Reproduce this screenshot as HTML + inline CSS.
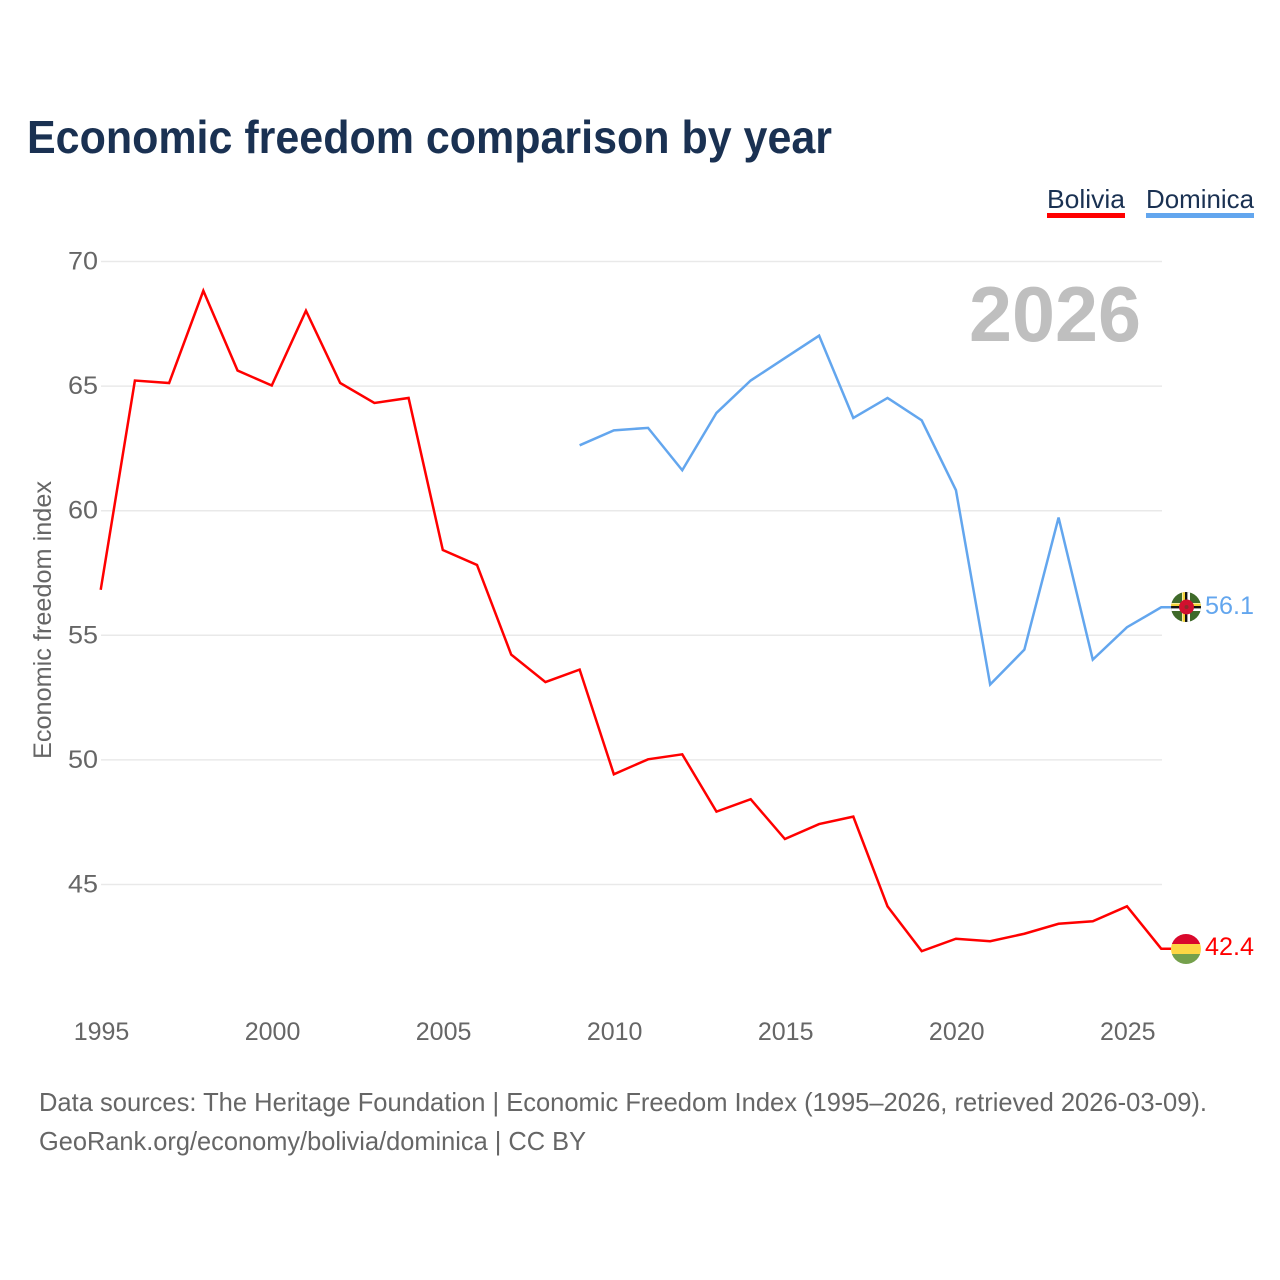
<!DOCTYPE html>
<html lang="en">
<head>
<meta charset="utf-8">
<title>Economic freedom comparison by year</title>
<style>
html,body{margin:0;padding:0;background:#fff;}
svg{display:block;font-family:"Liberation Sans",sans-serif;}
</style>
</head>
<body>
<svg id="chart" xmlns="http://www.w3.org/2000/svg" width="1280" height="1280" viewBox="0 0 1280 1280">
  <rect width="1280" height="1280" fill="#fff"/>
  <text x="27" y="153" font-size="46" font-weight="700" fill="#1a3152" textLength="805" lengthAdjust="spacingAndGlyphs">Economic freedom comparison by year</text>

  <g>
    <g>
      <text x="1047" y="208" font-size="26" fill="#1a3152" textLength="78" lengthAdjust="spacingAndGlyphs">Bolivia</text>
      <rect x="1047" y="213" width="78" height="5" fill="#ff0000"/>
    </g>
    <g>
      <text x="1146" y="208" font-size="26" fill="#1a3152" textLength="108" lengthAdjust="spacingAndGlyphs">Dominica</text>
      <rect x="1146" y="213" width="108" height="5" fill="#63a6ee"/>
    </g>
  </g>

  <g id="grid"></g>
  <g id="yticks"></g>
  <g id="xticks"></g>

  <text x="969" y="341" font-size="78" font-weight="700" fill="#bfbfbf" textLength="172" lengthAdjust="spacingAndGlyphs">2026</text>

  <text transform="translate(51,759) rotate(-90)" font-size="25" fill="#666" textLength="278" lengthAdjust="spacingAndGlyphs">Economic freedom index</text>

  <path id="line-bolivia" fill="none" stroke="#ff0000" stroke-width="2.5" stroke-linejoin="miter" transform="translate(-0.8,-0.6)"/>
  <path id="line-dominica" fill="none" stroke="#63a6ee" stroke-width="2.5" stroke-linejoin="miter" transform="translate(-0.8,-0.6)"/>

  <defs>
    <clipPath id="clip-flag-d"><circle cx="1186" cy="607" r="15"/></clipPath>
    <clipPath id="clip-flag-b"><circle cx="1186" cy="949" r="15"/></clipPath>
  </defs>

  <g clip-path="url(#clip-flag-d)">
    <rect x="1171" y="592" width="30" height="30" fill="#3f6a2a"/>
    <rect x="1182" y="592" width="8" height="30" fill="#fff"/>
    <rect x="1171" y="603" width="30" height="8" fill="#fff"/>
    <rect x="1182.5" y="592" width="2.5" height="30" fill="#f4d43a"/>
    <rect x="1185" y="592" width="2.4" height="30" fill="#111"/>
    <rect x="1171" y="603.5" width="30" height="2.5" fill="#f4d43a"/>
    <rect x="1171" y="606" width="30" height="2.4" fill="#111"/>
    <circle cx="1186.5" cy="607" r="7.5" fill="#d0102e"/>
    <circle cx="1186.5" cy="607" r="2" fill="#8a2a2a"/>
  </g>
  <text x="1205" y="614" font-size="25" fill="#63a6ee" textLength="49" lengthAdjust="spacingAndGlyphs">56.1</text>

  <g clip-path="url(#clip-flag-b)">
    <rect x="1171" y="934" width="30" height="10" fill="#d9082c"/>
    <rect x="1171" y="944" width="30" height="10" fill="#fdd644"/>
    <rect x="1171" y="954" width="30" height="10" fill="#75a04c"/>
  </g>
  <text x="1205" y="955" font-size="25" fill="#ff0000" textLength="49" lengthAdjust="spacingAndGlyphs">42.4</text>

  <text x="39" y="1111" font-size="26" fill="#666" textLength="1168" lengthAdjust="spacingAndGlyphs">Data sources: The Heritage Foundation | Economic Freedom Index (1995–2026, retrieved 2026-03-09).</text>
  <text x="39" y="1150" font-size="26" fill="#666" textLength="547" lengthAdjust="spacingAndGlyphs">GeoRank.org/economy/bolivia/dominica | CC BY</text>
</svg>
<script>
const yTickValues = [45, 50, 55, 60, 65, 70];
const xTickYears = [1995, 2000, 2005, 2010, 2015, 2020, 2025];
const boliviaStartYear = 1995;
const boliviaValues = [56.8, 65.2, 65.1, 68.8, 65.6, 65.0, 68.0, 65.1, 64.3, 64.5, 58.4, 57.8, 54.2, 53.1, 53.6, 49.4, 50.0, 50.2, 47.9, 48.4, 46.8, 47.4, 47.7, 44.1, 42.3, 42.8, 42.7, 43.0, 43.4, 43.5, 44.1, 42.4];
const dominicaStartYear = 2009;
const dominicaValues = [62.6, 63.2, 63.3, 61.6, 63.9, 65.2, 66.1, 67.0, 63.7, 64.5, 63.6, 60.8, 53.0, 54.4, 59.7, 54.0, 55.3, 56.1];

function xScale(year) { return 101.5 + (year - 1995) * (1162 - 101.5) / 31; }
function yScale(v) { return 261.5 + (70 - v) * (884.5 - 261.5) / 25; }
const NS = 'http://www.w3.org/2000/svg';
const flagEdgeX = 1172;

function linePath(startYear, values) {
  const d = values.map(function (v, i) {
    return (i ? 'L' : 'M') + xScale(startYear + i).toFixed(2) + ' ' + yScale(v).toFixed(2);
  }).join(' ');
  return d + ' L' + flagEdgeX + ' ' + yScale(values[values.length - 1]).toFixed(2);
}
document.getElementById('line-bolivia').setAttribute('d', linePath(boliviaStartYear, boliviaValues));
document.getElementById('line-dominica').setAttribute('d', linePath(dominicaStartYear, dominicaValues));

const grid = document.getElementById('grid');
const yticks = document.getElementById('yticks');
yTickValues.forEach(function (v) {
  const l = document.createElementNS(NS, 'line');
  
  
  l.setAttribute('x1', 101);
  l.setAttribute('x2', 1162);
  l.setAttribute('y1', yScale(v));
  l.setAttribute('y2', yScale(v));
  l.setAttribute('stroke', '#e9e9e9');
  l.setAttribute('stroke-width', '1.5');
  grid.appendChild(l);
  const t = document.createElementNS(NS, 'text');
  
  
  t.setAttribute('x', 68);
  t.setAttribute('y', yScale(v) + 8);
  t.setAttribute('textLength', '30');
  t.setAttribute('lengthAdjust', 'spacingAndGlyphs');
  t.setAttribute('font-size', '25');
  t.setAttribute('fill', '#666');
  t.textContent = v;
  yticks.appendChild(t);
});

const xticks = document.getElementById('xticks');
xTickYears.forEach(function (y) {
  const t = document.createElementNS(NS, 'text');
  
  
  t.setAttribute('x', xScale(y));
  t.setAttribute('y', 1040);
  t.setAttribute('text-anchor', 'middle');
  t.setAttribute('font-size', '25');
  t.setAttribute('fill', '#666');
  t.textContent = y;
  xticks.appendChild(t);
});
</script>
</body>
</html>
